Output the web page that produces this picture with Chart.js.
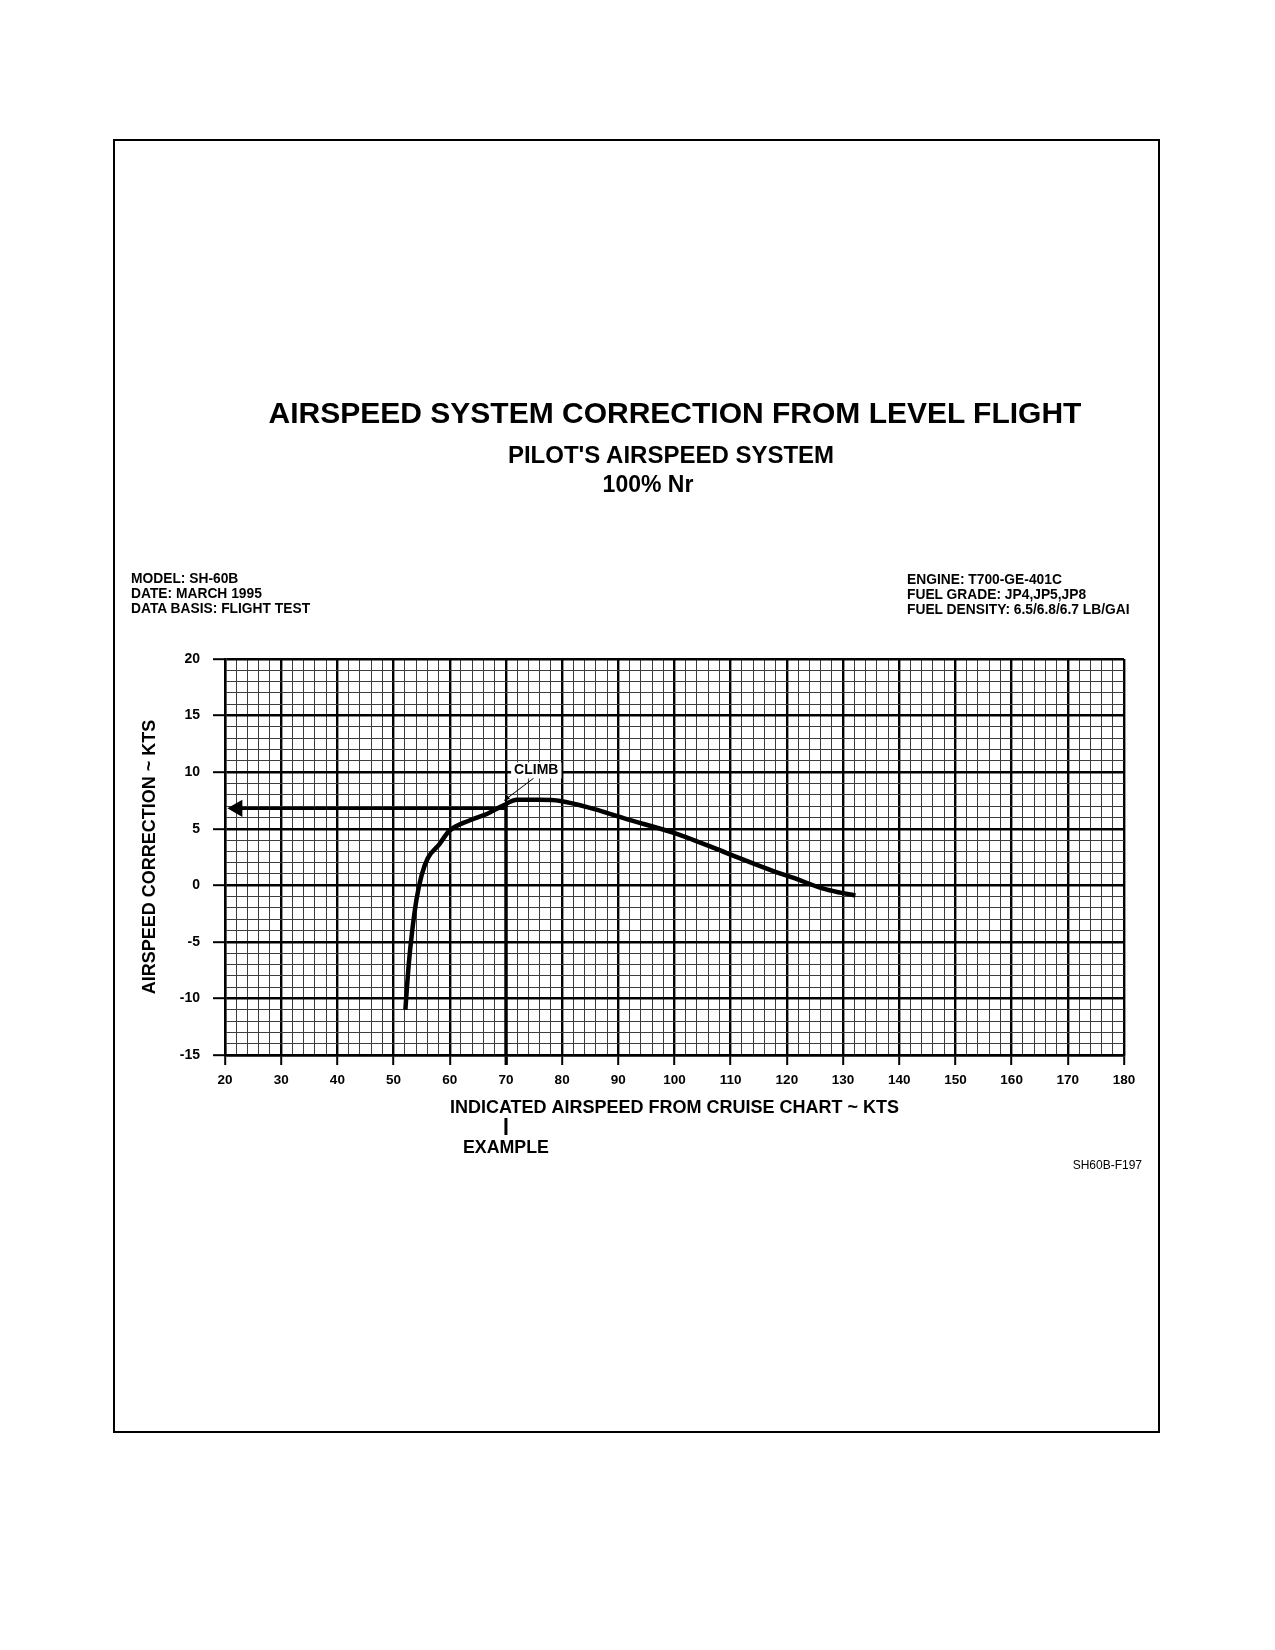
<!DOCTYPE html>
<html>
<head>
<meta charset="utf-8">
<title>Airspeed System Correction From Level Flight</title>
<script src="https://cdn.jsdelivr.net/npm/chart.js@4.4.0/dist/chart.umd.min.js"></script>
<style>
  html, body { margin: 0; padding: 0; background: #fff; }
  body { width: 1275px; height: 1650px; position: relative; overflow: hidden;
         font-family: "Liberation Sans", Arial, sans-serif; color: #000; }
  #chart { position: absolute; left: 0; top: 0; }
  .frame { position: absolute; left: 113px; top: 139px; width: 1047px; height: 1294px;
           border: 2px solid #000; box-sizing: border-box; }
  .t { position: absolute; font-weight: bold; white-space: nowrap; line-height: 1; }
  .c { transform: translateX(-50%); }
  .info { position: absolute; font-weight: bold; font-size: 13.8px; line-height: 15px; white-space: nowrap; }
</style>
</head>
<body>
<canvas id="chart" width="1275" height="1650"></canvas>
<div class="frame"></div>

<div class="t c" style="left:675px; top:398px; font-size:30px;">AIRSPEED SYSTEM CORRECTION FROM LEVEL FLIGHT</div>
<div class="t c" style="left:671px; top:443px; font-size:24px;">PILOT'S AIRSPEED SYSTEM</div>
<div class="t c" style="left:648px; top:473px; font-size:23px;">100% Nr</div>

<div class="info" style="left:131px; top:571px;">MODEL: SH-60B<br>DATE: MARCH 1995<br>DATA BASIS: FLIGHT TEST</div>
<div class="info" style="left:907px; top:572px;">ENGINE: T700-GE-401C<br>FUEL GRADE: JP4,JP5,JP8<br>FUEL DENSITY: 6.5/6.8/6.7 LB/GAI</div>

<div style="position:absolute; right:133px; top:1158px; font-size:12px; line-height:14px;">SH60B-F197</div>

<script>
// curve (kts)
const airspeed   = [52.1, 52.7, 53.3, 54.1, 55.0, 56.1, 58.1, 59.9, 63.6, 66.6, 69.3, 72.0, 76.0, 79.7, 85.6, 91.5, 100.4, 109.3, 118.2, 121.2, 126.5, 129.5, 132.2];
const correction = [-11.0, -7.0, -4.1, -1.2, 0.9, 2.4, 3.6, 4.8, 5.75, 6.3, 7.0, 7.55, 7.55, 7.45, 6.75, 5.85, 4.55, 2.85, 1.15, 0.65, -0.3, -0.65, -0.9];

// example: read up at 70 kts, across to the correction
const exampleX = [70, 70];
const exampleY = [7.1, -15];
const arrowX = [70, 22.2];
const arrowY = [6.8, 6.8];

// axes
const xMin = 20, xMax = 180, xMinor = 2, xMajor = 10;
const yMin = -15, yMax = 20, yMinor = 1, yMajor = 5;

const FONT = '"Liberation Sans", Arial, sans-serif';

function pts(xs, ys) {
    return xs.map((v, i) => ({ x: v, y: ys[i] }));
}

// labels and the example marker under the axis
const annotate = {
    id: 'annotate',
    afterDatasetsDraw(chart) {
        const { ctx, chartArea } = chart;
        const x = chart.scales.x, y = chart.scales.y;
        ctx.save();

        // CLIMB label with leader
        ctx.font = 'bold 14px ' + FONT;
        ctx.textAlign = 'center';
        ctx.textBaseline = 'middle';
        const lx = x.getPixelForValue(75.4), ly = y.getPixelForValue(10.15);
        const w = ctx.measureText('CLIMB').width;
        ctx.fillStyle = '#fff';
        ctx.fillRect(lx - w / 2 - 3, ly - 8, w + 6, 16);
        ctx.fillStyle = '#000';
        ctx.fillText('CLIMB', lx, ly);

        const x1 = x.getPixelForValue(74.9), y1 = y.getPixelForValue(9.45);
        const x2 = x.getPixelForValue(69.7), y2 = y.getPixelForValue(7.5);
        ctx.strokeStyle = '#000';
        ctx.lineWidth = 1;
        ctx.beginPath();
        ctx.moveTo(x1, y1);
        ctx.lineTo(x2, y2);
        ctx.stroke();
        const a = Math.atan2(y2 - y1, x2 - x1);
        ctx.beginPath();
        ctx.moveTo(x2, y2);
        ctx.lineTo(x2 - 6 * Math.cos(a - 0.35), y2 - 6 * Math.sin(a - 0.35));
        ctx.lineTo(x2 - 6 * Math.cos(a + 0.35), y2 - 6 * Math.sin(a + 0.35));
        ctx.closePath();
        ctx.fill();

        // EXAMPLE marker below the axis title
        const ex = x.getPixelForValue(exampleX[0]);
        ctx.fillRect(ex - 1.5, chartArea.bottom + 63, 3, 17);
        ctx.font = 'bold 17.8px ' + FONT;
        ctx.fillText('EXAMPLE', ex, chartArea.bottom + 93);
        ctx.restore();
    }
};

const ctx = document.getElementById('chart').getContext('2d');
new Chart(ctx, {
    type: 'line',
    data: {
        datasets: [
            {
                data: pts(airspeed, correction),
                borderColor: '#000',
                borderWidth: 4.5,
                pointRadius: 0,
                cubicInterpolationMode: 'monotone',
                borderCapStyle: 'butt'
            },
            {
                data: pts(arrowX, arrowY),
                borderColor: '#000',
                borderWidth: 3.2,
                pointStyle: 'triangle',
                pointRotation: 270,
                pointRadius: c => c.dataIndex === 1 ? 10 : 0,
                pointBackgroundColor: '#000',
                pointBorderWidth: 0,
                tension: 0
            },
            {
                data: pts(exampleX, exampleY),
                borderColor: '#000',
                borderWidth: 3.3,
                pointRadius: 0,
                tension: 0
            }
        ]
    },
    options: {
        responsive: false,
        animation: false,
        devicePixelRatio: 1,
        layout: { padding: { left: 130, right: 151, top: 659, bottom: 470 } },
        plugins: { legend: { display: false }, tooltip: { enabled: false } },
        scales: {
            x: {
                type: 'linear',
                min: xMin,
                max: xMax,
                afterFit: s => { s.height = 125; },
                border: { display: true, color: '#000', width: 2.4 },
                grid: {
                    color: c => c.tick.value % xMajor === 0 ? '#000' : '#3c3c3c',
                    lineWidth: c => c.tick.value % xMajor === 0 ? 2.4 : 1,
                    tickLength: 10,
                    tickColor: c => c.tick.value % xMajor === 0 ? '#000' : 'rgba(0,0,0,0)',
                    tickWidth: c => c.tick.value === exampleX[0] ? 3.3 : 2
                },
                ticks: {
                    stepSize: xMinor,
                    autoSkip: false,
                    maxRotation: 0,
                    padding: 7,
                    color: '#000',
                    font: { family: FONT, size: 13.5, weight: 'bold' },
                    callback: v => v % xMajor === 0 ? v : ''
                },
                title: {
                    display: true,
                    text: 'INDICATED AIRSPEED FROM CRUISE CHART ~ KTS',
                    color: '#000',
                    font: { family: FONT, size: 18, weight: 'bold' },
                    padding: { top: 0, bottom: 61 }
                }
            },
            y: {
                type: 'linear',
                min: yMin,
                max: yMax,
                afterFit: s => { s.width = 95; },
                border: { display: true, color: '#000', width: 2.4 },
                grid: {
                    color: c => c.tick.value % yMajor === 0 ? '#000' : '#3c3c3c',
                    lineWidth: c => c.tick.value % yMajor === 0 ? 2.4 : 1,
                    tickLength: 12,
                    tickColor: c => c.tick.value % yMajor === 0 ? '#000' : 'rgba(0,0,0,0)',
                    tickWidth: 2
                },
                ticks: {
                    stepSize: yMinor,
                    autoSkip: false,
                    padding: 13,
                    color: '#000',
                    font: { family: FONT, size: 14, weight: 'bold' },
                    callback: v => v % yMajor === 0 ? v : ''
                },
                title: {
                    display: true,
                    text: 'AIRSPEED CORRECTION ~ KTS',
                    color: '#000',
                    font: { family: FONT, size: 18, weight: 'bold' },
                    padding: { top: 9, bottom: 0 }
                }
            }
        }
    },
    plugins: [annotate]
});
</script>
</body>
</html>
